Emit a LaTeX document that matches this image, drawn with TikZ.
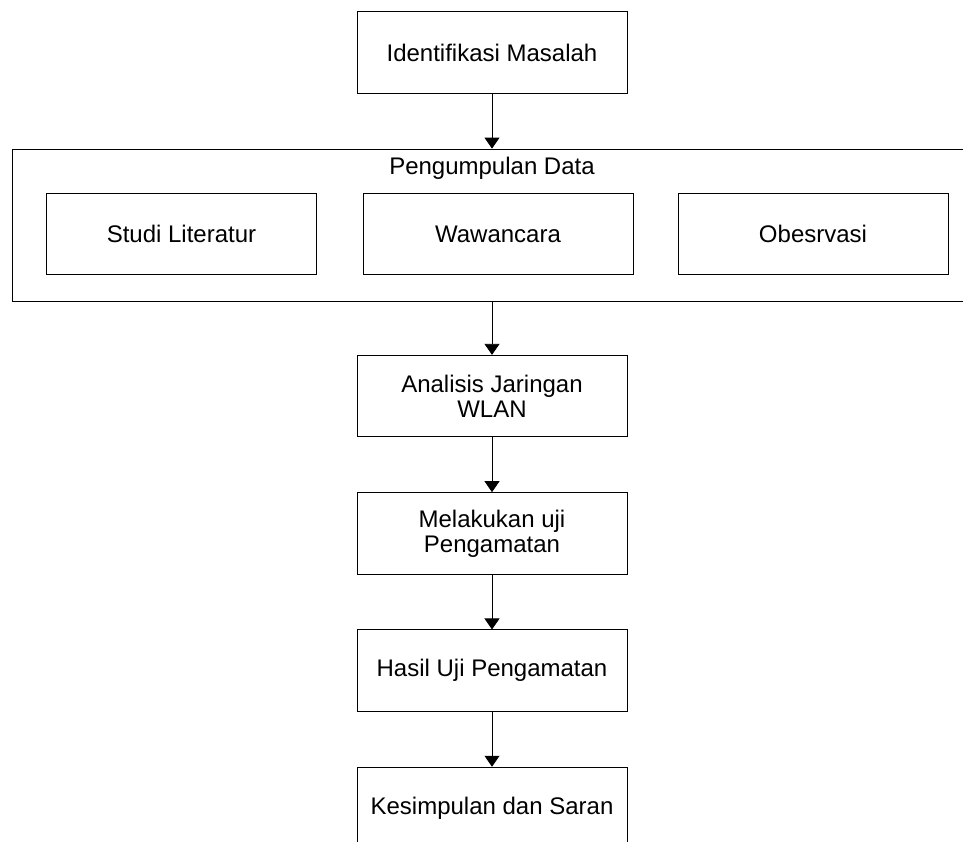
\documentclass[tikz,border=0pt]{standalone}
\usepackage{fontspec}
\setmainfont{Liberation Sans}
\usetikzlibrary{positioning, arrows.meta}
\tikzset{
	->,
	>={Triangle[width=7.5pt,length=5.5pt]},
	node distance=27.5pt,
	line width=0.75pt,
	every node/.style={font=\fontsize{12}{12.5}\selectfont},
	box/.style={draw, rectangle, align=center, minimum width=135pt, minimum height=40.75pt, inner sep=2pt},
	group/.style={draw, rectangle, minimum width=494pt, minimum height=76pt, inner sep=0pt},
}

\begin{document}
\begin{tikzpicture}[x=0.5pt, y=-0.5pt]
			\useasboundingbox (0,0) rectangle (963,841);
			\node[group] (DATA) at (506,225) {};
			\node (DATALBL) at (492,168) {Pengumpulan Data};
			\node[box] (IDENT) at (492,52.5) {Identifikasi Masalah};
			\node[box] (STUDI) at (181.5,234) {Studi Literatur};
			\node[box] (WAWAN) at (498,234) {Wawancara};
			\node[box] (OBS) at (813,234) {Obesrvasi};
			\node[box] (ANALISIS) at (492,396) {Analisis Jaringan\\WLAN};
			\node[box, below=of ANALISIS] (UJI) {Melakukan uji\\Pengamatan};
			\node[box, below=of UJI] (HASIL) {Hasil Uji Pengamatan};
			\node[box, below=of HASIL] (KESIMPULAN) {Kesimpulan dan Saran};
			
			
			\draw (IDENT) -- (IDENT |- DATA.north);
			\draw (ANALISIS |- DATA.south) -- (ANALISIS);
			\draw (ANALISIS) -- (UJI);
			\draw (UJI) -- (HASIL);
			\draw (HASIL) -- (KESIMPULAN);
		\end{tikzpicture}
\end{document}
